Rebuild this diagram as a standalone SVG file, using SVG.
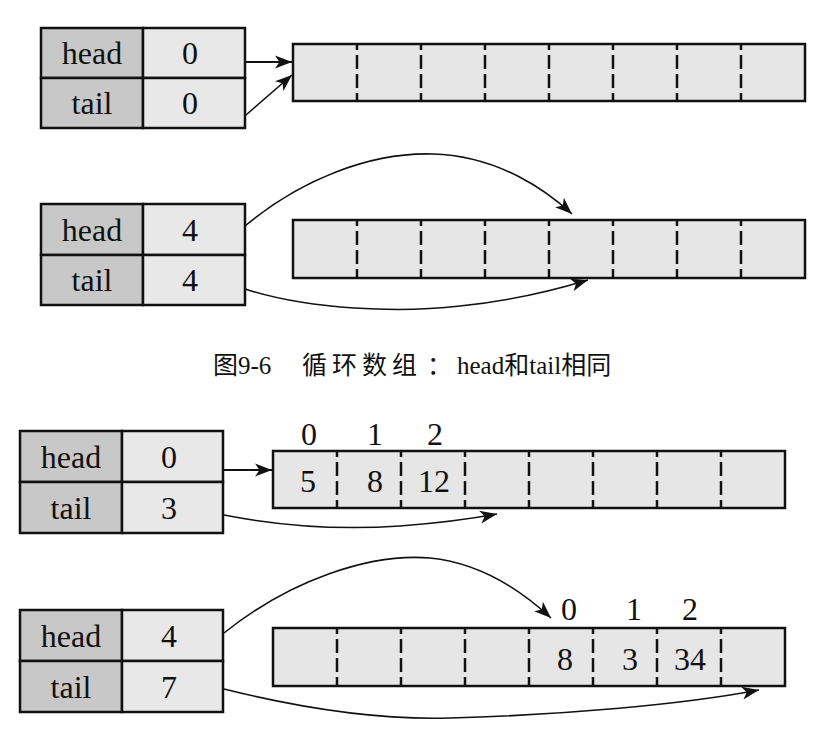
<svg xmlns="http://www.w3.org/2000/svg" width="813" height="738" viewBox="0 0 813 738">
<style>
.bg{fill:#ffffff}
.lab{fill:#c8c8c8;stroke:#111;stroke-width:2.5}
.val{fill:#e8e8e8;stroke:#111;stroke-width:2.5}
.arr{fill:#e6e6e6;stroke:#111;stroke-width:2.5}
.dash{stroke:#111;stroke-width:2.5;stroke-dasharray:14 5;stroke-dashoffset:8}
.t{font-family:"Liberation Serif","Times New Roman",serif;font-size:32px;fill:#111;text-anchor:middle}
.cap{font-family:"Liberation Serif","Noto Sans CJK SC",serif;font-size:25px;fill:#111}
.ln{fill:none;stroke:#111;stroke-width:2.2}
.cv{fill:none;stroke:#111;stroke-width:1.6}
</style>
<defs>
<marker id="ah" markerUnits="userSpaceOnUse" markerWidth="18" markerHeight="14" viewBox="0 -7 18 14" refX="17" refY="0" orient="auto">
<path d="M0,-6.5 L17,0 L0,6.5 L4.5,0 Z" fill="#111"/>
</marker>
</defs>
<rect class="bg" x="0" y="0" width="813" height="738"/>

<g id="table1">
<rect class="lab" x="41" y="28" width="102" height="50"/>
<rect class="val" x="143" y="28" width="102" height="50"/>
<rect class="lab" x="41" y="78" width="102" height="50"/>
<rect class="val" x="143" y="78" width="102" height="50"/>
<text class="t" x="92" y="64">head</text>
<text class="t" x="190" y="64">0</text>
<text class="t" x="92" y="114">tail</text>
<text class="t" x="190" y="114">0</text>
</g>

<g id="array1">
<rect class="arr" x="293" y="44" width="512" height="57"/>
<path class="dash" d="M357,44V101M421,44V101M485,44V101M549,44V101M613,44V101M677,44V101M741,44V101"/>
</g>

<g id="table2">
<rect class="lab" x="41" y="204" width="102" height="51"/>
<rect class="val" x="143" y="204" width="102" height="51"/>
<rect class="lab" x="41" y="255" width="102" height="50"/>
<rect class="val" x="143" y="255" width="102" height="50"/>
<text class="t" x="92" y="241">head</text>
<text class="t" x="190" y="241">4</text>
<text class="t" x="92" y="291">tail</text>
<text class="t" x="190" y="291">4</text>
</g>

<g id="array2">
<rect class="arr" x="293" y="220" width="512" height="58"/>
<path class="dash" d="M357,220V278M421,220V278M485,220V278M549,220V278M613,220V278M677,220V278M741,220V278"/>
</g>

<g id="caption">
<text class="cap" x="213" y="374">图9-6</text>
<text class="cap" x="302" y="374" letter-spacing="5">循环数组</text>
<text class="cap" x="427" y="374">：</text>
<text class="cap" x="457" y="374">head和tail相同</text>
</g>

<g id="table3">
<rect class="lab" x="20" y="431" width="102" height="51"/>
<rect class="val" x="122" y="431" width="101" height="51"/>
<rect class="lab" x="20" y="482" width="102" height="51"/>
<rect class="val" x="122" y="482" width="101" height="51"/>
<text class="t" x="71" y="468">head</text>
<text class="t" x="169" y="468">0</text>
<text class="t" x="71" y="519">tail</text>
<text class="t" x="169" y="519">3</text>
</g>

<g id="array3">
<rect class="arr" x="273" y="451" width="512" height="57"/>
<path class="dash" d="M337,451V508M401,451V508M465,451V508M529,451V508M593,451V508M657,451V508M721,451V508"/>
<text class="t" x="309" y="445">0</text>
<text class="t" x="375" y="445">1</text>
<text class="t" x="435" y="445">2</text>
<text class="t" x="308" y="492">5</text>
<text class="t" x="375" y="492">8</text>
<text class="t" x="434" y="492">12</text>
</g>

<g id="table4">
<rect class="lab" x="20" y="610" width="102" height="51"/>
<rect class="val" x="122" y="610" width="101" height="51"/>
<rect class="lab" x="20" y="661" width="102" height="51"/>
<rect class="val" x="122" y="661" width="101" height="51"/>
<text class="t" x="71" y="647">head</text>
<text class="t" x="169" y="647">4</text>
<text class="t" x="71" y="698">tail</text>
<text class="t" x="169" y="698">7</text>
</g>

<g id="array4">
<rect class="arr" x="273" y="628" width="512" height="58"/>
<path class="dash" d="M337,628V686M401,628V686M465,628V686M529,628V686M593,628V686M657,628V686M721,628V686"/>
<text class="t" x="569" y="620">0</text>
<text class="t" x="634" y="620">1</text>
<text class="t" x="690" y="620">2</text>
<text class="t" x="565" y="670">8</text>
<text class="t" x="630" y="670">3</text>
<text class="t" x="690" y="670">34</text>
</g>

<g id="connectors">
<path class="ln" d="M245,62 H292" marker-end="url(#ah)"/>
<path class="cv" d="M246,115 L292,75" marker-end="url(#ah)"/>
<path class="cv" d="M245,226 C300,180 370,152 433,154 C500,156 548,192 572,214" marker-end="url(#ah)"/>
<path class="cv" d="M245,289 C310,310 400,313 460,306 C510,301 555,290 588,280" marker-end="url(#ah)"/>
<path class="ln" d="M223,470 H272" marker-end="url(#ah)"/>
<path class="cv" d="M224,515 C280,526 340,530 400,526 C440,523 470,519 497,514" marker-end="url(#ah)"/>
<path class="cv" d="M224,633 C290,580 370,553 430,558 C470,562 510,580 551,618" marker-end="url(#ah)"/>
<path class="cv" d="M224,689 C300,708 380,720 450,718 C560,715 680,705 759,690" marker-end="url(#ah)"/>
</g>
</svg>
